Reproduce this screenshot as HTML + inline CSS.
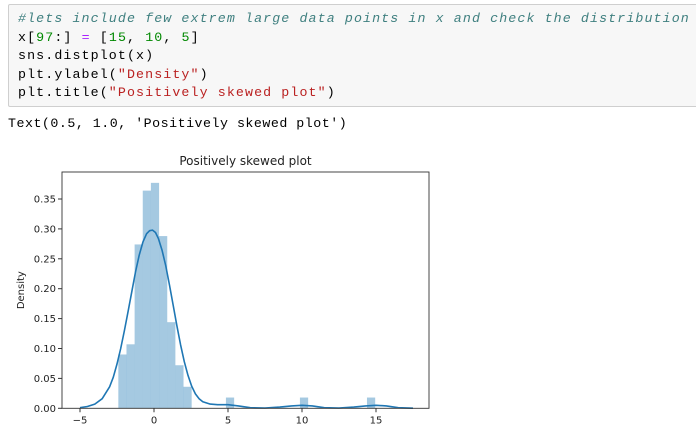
<!DOCTYPE html>
<html><head><meta charset="utf-8"><style>
body{margin:0;width:696px;height:437px;background:#fff;overflow:hidden;position:relative;font-family:"Liberation Mono",monospace}
.cell{position:absolute;left:8px;top:4px;width:700px;height:101px;background:#f7f7f7;border:1px solid #cfcfcf;border-radius:2px}
.code{position:absolute;left:9px;top:5px;font-size:13.3px;letter-spacing:1.1px;line-height:18.5px;white-space:pre;color:#000}
.cm{color:#408080;font-style:italic}.n{color:#080}.s{color:#ba2121}.o{color:#a2f}
.out{position:absolute;left:8px;top:116px;font-size:13.3px;letter-spacing:0.5px;white-space:pre}
svg{position:absolute;left:0;top:0}
</style></head><body>
<div class="cell">
<div class="code"><span class="cm">#lets include few extrem large data points in x and check the distribution</span>
x[<span class="n">97</span>:] <span class="o">=</span> [<span class="n">15</span>, <span class="n">10</span>, <span class="n">5</span>]
sns.distplot(x)
plt.ylabel(<span class="s">"Density"</span>)
plt.title(<span class="s">"Positively skewed plot"</span>)</div></div>
<div class="out">Text(0.5, 1.0, 'Positively skewed plot')</div>
<svg id="chart" width="696" height="437" font-family="'DejaVu Sans','Liberation Sans',sans-serif"></svg>
<script>
const binLefts=[-2.41,-1.86,-1.31,-0.76,-0.21,0.34,0.89,1.44,1.99,4.86,9.86,14.39];
const binHeights=[0.090,0.107,0.274,0.364,0.377,0.288,0.144,0.072,0.036,0.018,0.018,0.018];
const binWidth=0.555;
const kdeX=[-5,-4.5,-4,-3.5,-3,-2.75,-2.5,-2.25,-2,-1.75,-1.5,-1.25,-1,-0.75,-0.5,-0.3,-0.1,0.1,0.3,0.55,0.8,1.05,1.3,1.55,1.8,2.05,2.3,2.55,2.8,3.05,3.3,3.8,4.3,5,5.7,6.5,7.5,8.5,9.3,10,10.7,11.5,12.5,13.5,14.3,15,15.7,16.5,17.5];
const kdeY=[0.001,0.003,0.007,0.016,0.036,0.052,0.074,0.100,0.130,0.162,0.195,0.228,0.256,0.278,0.292,0.297,0.298,0.294,0.284,0.264,0.238,0.206,0.172,0.138,0.106,0.078,0.055,0.037,0.024,0.016,0.011,0.007,0.006,0.006,0.004,0.001,0.0005,0.002,0.004,0.005,0.004,0.001,0.0005,0.002,0.004,0.005,0.004,0.001,0.0002];
const xTicks=[-5,0,5,10,15];
const yTicks=[0,0.05,0.10,0.15,0.20,0.25,0.30,0.35];
const NS="http://www.w3.org/2000/svg";
const svg=document.getElementById('chart');
const L=62,R=429,T=172,B=408.3;
const sx=v=>154+v*14.8, sy=v=>B-v*598;
function mk(t,a){const e=document.createElementNS(NS,t);for(const k in a)e.setAttribute(k,a[k]);svg.appendChild(e);return e;}
binLefts.forEach((l,i)=>{
 const r=mk('rect',{x:sx(l),y:sy(binHeights[i]),width:sx(l+binWidth)-sx(l),height:B-sy(binHeights[i]),fill:'#1f77b4','fill-opacity':0.4});
 
 
});
const p=mk('path',{d:kdeX.map((x,i)=>(i?'L':'M')+sx(x).toFixed(1)+','+sy(kdeY[i]).toFixed(1)).join(''),fill:'none',stroke:'#1f77b4','stroke-width':1.6,'stroke-linejoin':'round'});


const f=mk('rect',{x:L,y:T,width:R-L,height:B-T,fill:'none',stroke:'#333','stroke-width':0.9});


xTicks.forEach(v=>{
 mk('line',{x1:sx(v),x2:sx(v),y1:B,y2:B+4,stroke:'#333'});
 const t=mk('text',{x:sx(v),y:B+15,'font-size':10,'text-anchor':'middle',fill:'#222'});t.textContent=v<0?'\u2212'+(-v):v;
 
 
});
yTicks.forEach(v=>{
 mk('line',{x1:L-4,x2:L,y1:sy(v),y2:sy(v),stroke:'#333'});
 const t=mk('text',{x:L-6,y:sy(v)+3.5,'font-size':10,'text-anchor':'end',fill:'#222'});t.textContent=v.toFixed(2);
 
 
});
const ti=mk('text',{x:(L+R)/2,y:165,'font-size':12,'text-anchor':'middle',fill:'#222'});ti.textContent='Positively skewed plot';


const yl=mk('text',{x:24,y:(T+B)/2,'font-size':10,'text-anchor':'middle',fill:'#222',transform:'rotate(-90 24 '+((T+B)/2)+')'});yl.textContent='Density';


</script>
</body></html>
